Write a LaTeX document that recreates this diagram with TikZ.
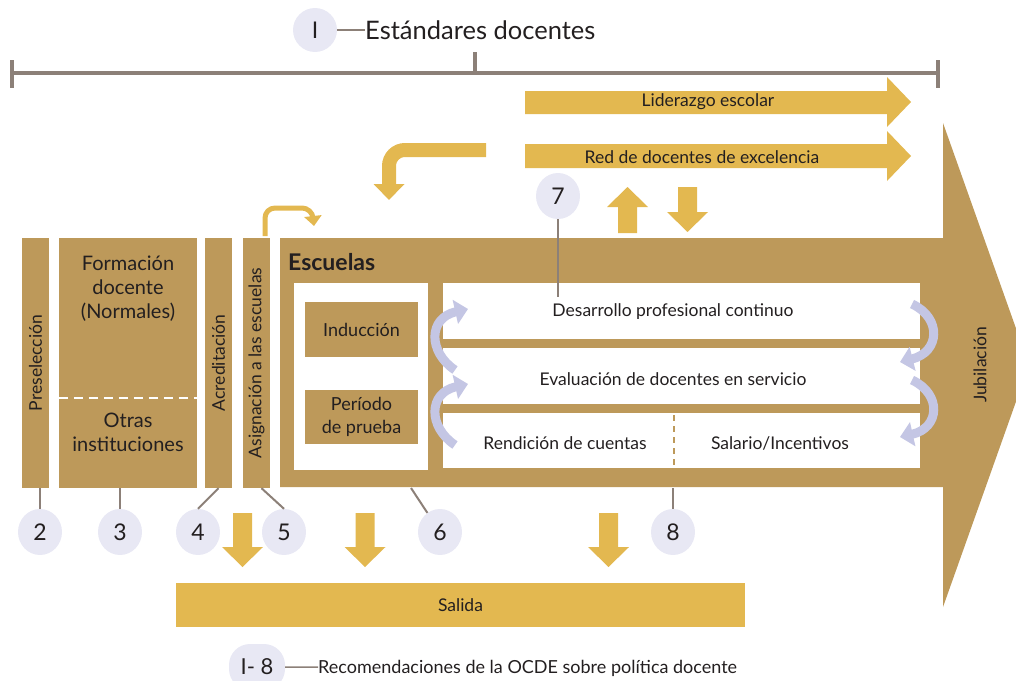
\documentclass[tikz,border=0pt]{standalone}
\usepackage{fontspec}
\setmainfont{Lato}
\usetikzlibrary{arrows.meta, positioning, shapes.geometric, calc}

\definecolor{ocdetan}{HTML}{BD995A}
\definecolor{ocdegold}{HTML}{E3B850}
\definecolor{ocdecirc}{HTML}{E8E8F4}
\definecolor{ocdecycle}{HTML}{C4C6E4}
\definecolor{ocdeline}{HTML}{8C8078}
\definecolor{ocdetext}{HTML}{231F20}

\newcommand{\fsz}[2]{\fontsize{#1}{#2}\selectfont}
% block arrows: x, start, tip
\newcommand{\blockdown}[3]{\fill[ocdegold] (#1-9.5,#2) -- (#1+9.5,#2) -- (#1+9.5,#3-20) -- (#1+20.5,#3-20) -- (#1,#3) -- (#1-20.5,#3-20) -- (#1-9.5,#3-20) -- cycle;}
\newcommand{\blockup}[3]{\fill[ocdegold] (#1-9.5,#2) -- (#1+9.5,#2) -- (#1+9.5,#3+20) -- (#1+20.5,#3+20) -- (#1,#3) -- (#1-20.5,#3+20) -- (#1-9.5,#3+20) -- cycle;}

\tikzset{
  tanbox/.style={fill=ocdetan, inner sep=0pt},
  whitebox/.style={fill=white, inner sep=0pt},
  goldbox/.style={fill=ocdegold, inner sep=0pt},
  numcirc/.style={ellipse, fill=ocdecirc, minimum width=44pt, minimum height=46pt, inner sep=0pt, text=ocdetext, font=\fsz{23}{23}},
  lbl/.style={text=ocdetext, font=\fsz{17.5}{17.5}, inner sep=0pt},
  leader/.style={draw=ocdeline, line width=2pt},
  cyc/.style={draw=ocdecycle, line width=9pt, -{Triangle[length=13pt,width=24pt]}},
}

\begin{document}
\begin{tikzpicture}[x=1pt,y=-1pt]
\useasboundingbox (0,0) rectangle (1016,680);

% Standards bracket
\node[numcirc, minimum height=44pt] (ci) at (315,30) {I};
\node[lbl, font=\fsz{25.5}{25.5}, anchor=west] (std) at (365,30) {Estándares docentes};
\draw[leader] (ci) -- (std);
\draw[ocdeline, line width=4pt] (12,73) -- (938,73);
\draw[ocdeline, line width=4pt] (12,60) -- (12,88);
\draw[ocdeline, line width=4pt] (938,60) -- (938,88);
\draw[ocdeline, line width=4pt] (475,52) -- (475,73);

% Career arrows on top
\fill[ocdegold] (525,91) -- (887,91) -- (887,77) -- (911,102) -- (887,127) -- (887,114) -- (525,114) -- cycle;
\node[lbl] (lider) at (708,102) {Liderazgo escolar};
\fill[ocdegold] (525,144) -- (887,144) -- (887,131) -- (911,156) -- (887,181) -- (887,168) -- (525,168) -- cycle;
\node[lbl] (red) at (702,157) {Red de docentes de excelencia};

\draw[ocdegold, line width=14pt, rounded corners=16pt, -{Triangle[length=16pt,width=30pt]}] (486,150) -- (389,150) -- (389,200);
\blockup{627.5}{233}{187}
\blockdown{687.5}{187}{232}

% Schools (big arrow)
\fill[ocdetan] (280,238) -- (943,238) -- (943,123) -- (1029,365) -- (943,607) -- (943,487) -- (280,487) -- cycle;
\node[lbl, font=\bfseries\fsz{23}{23}, anchor=west] (escuelas) at (288,262) {Escuelas};
\node[lbl, rotate=90] (jubil) at (980,365) {Jubilación};

\node[whitebox, minimum width=134pt, minimum height=187pt] (escwhite) at (361,376.5) {};
\node[tanbox, lbl, font=\fsz{18}{23}, minimum width=113pt, minimum height=55pt] (induc) at (361.5,329.5) {Inducción};
\node[tanbox, lbl, font=\fsz{18}{23}, align=center, minimum width=113pt, minimum height=54pt] (prueba) at (361.5,417) {Período\\de prueba};

\node[whitebox, minimum width=477pt, minimum height=56pt] (pdpc) at (681.5,311) {};
\node[whitebox, minimum width=477pt, minimum height=56pt] (peval) at (681.5,376) {};
\node[whitebox, minimum width=477pt, minimum height=55pt] (pbot) at (681.5,440.5) {};
\node[lbl] (dpc) at (673,312) {Desarrollo profesional continuo};
\node[lbl] (eval) at (673,379) {Evaluación de docentes en servicio};
\node[lbl] (rend) at (565,443) {Rendición de cuentas};
\node[lbl] (sal) at (780,443) {Salario/Incentivos};
\draw[ocdetan, line width=2pt, dash pattern=on 6pt off 5pt] (674,415) -- (674,467);

% cycles
\draw[cyc] (455,370) .. controls (428,352) and (428,318) .. (468,309);
\draw[cyc] (455,445) .. controls (428,427) and (428,393) .. (468,384);
\draw[cyc] (912,304) .. controls (942,318) and (940,352) .. (900,362);
\draw[cyc] (912,380) .. controls (942,394) and (940,428) .. (900,437);

% Initial stages
\node[tanbox, minimum width=27pt, minimum height=250pt] (presel) at (35.5,363) {};
\node[lbl, rotate=90] (preseltxt) at (presel) {Preselección};
\node[tanbox, minimum width=138pt, minimum height=250pt] (form) at (128,363) {};
\node[lbl, font=\fsz{20}{24}, align=center] (formtxt) at (128,289) {Formación\\docente\\(Normales)};
\node[lbl, font=\fsz{20}{24}, align=center] (otras) at (128,432.5) {Otras\\instituciones};
\draw[white, line width=2pt, dash pattern=on 9pt off 6pt] (form.west |- 0,398) -- (form.east |- 0,398);
\node[tanbox, minimum width=27pt, minimum height=250pt] (acred) at (218.5,363) {};
\node[lbl, rotate=90] (acredtxt) at (acred) {Acreditación};
\node[tanbox, minimum width=27pt, minimum height=250pt] (asig) at (256.5,363) {};
\node[lbl, rotate=90] (asigtxt) at (asig) {Asignación a las escuelas};
\draw[ocdegold, line width=5pt, rounded corners=10pt, -{Triangle[length=10pt,width=17pt]}] (265,236) -- (265,208) -- (312,208) -- (314,226);

% Recommendations
\node[numcirc] (c2) at (40,532) {2};
\node[numcirc] (c3) at (120,532) {3};
\node[numcirc] (c4) at (198,532) {4};
\node[numcirc] (c5) at (284,532) {5};
\node[numcirc] (c6) at (440,532) {6};
\node[numcirc] (c8) at (673,532) {8};
\coordinate (escfoot) at (411,488);
\draw[leader] (c2) -- (c2 |- presel.south);
\draw[leader] (c3) -- (c3 |- form.south);
\draw[leader] (c4.north) -- (acred.south);
\draw[leader] (c5.north) -- ([xshift=5pt]asig.south);
\draw[leader] (c6) -- (escfoot);
\draw[leader] (c8) -- (c8 |- escfoot);
\node[numcirc] (c7) at (558,196) {7};
\coordinate (dpcpin) at (558,297);
\draw[leader] (c7) -- (dpcpin);

% Exit
\blockdown{242.5}{513}{567}
\blockdown{365}{513}{567}
\blockdown{608.5}{513}{567}
\node[goldbox, lbl, minimum width=569pt, minimum height=44pt] (salida) at (460.5,605) {Salida};

% Legend
\node[fill=ocdecirc, rounded corners=21pt, minimum width=56pt, minimum height=46pt, inner sep=0pt, text=ocdetext, font=\fsz{22}{22}] (cleg) at (257,667) {I- 8};
\node[lbl, font=\fsz{18}{18}, anchor=west] (legtxt) at (318,668) {Recomendaciones de la OCDE sobre política docente};
\draw[leader, line width=1.5pt] (cleg) -- (legtxt);
\end{tikzpicture}
\end{document}
